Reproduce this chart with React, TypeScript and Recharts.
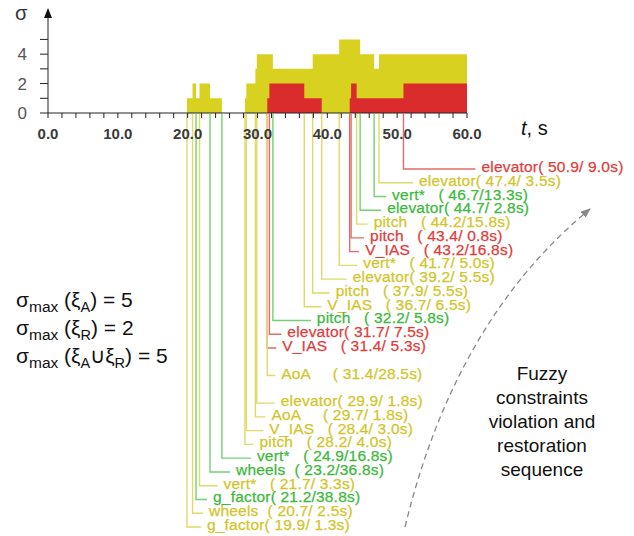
import { Area, ComposedChart, Line, ReferenceDot, XAxis, YAxis } from 'recharts'

const W = 634
const H = 536
const PLOT_LEFT = 48
const PX_PER_S = 419 / 60
const TOP_H = 150
const LEAD_TOP = 114
const ROW0 = 169
const ROW_H = 13.77
const FONT = 'Arial, "Liberation Sans", Helvetica, sans-serif'

// number of violated constraints (step curve)
const stepTime = [0, 19.9, 20.7, 21.2, 21.7, 23.2, 24.9, 28.2, 28.4, 29.7, 29.9, 31.4, 31.7, 32.2, 36.7, 37.9, 39.2, 41.7, 43.2, 43.4, 44.2, 44.7, 46.7, 47.4, 50.9, 60]
const stepTotal = [0, 1, 2, 1, 2, 1, 0, 1, 2, 3, 4, 4, 4, 3, 3, 4, 4, 5, 5, 5, 5, 4, 3, 4, 4, 4]
const stepRed = [0, 0, 0, 0, 0, 0, 0, 0, 0, 0, 0, 1, 2, 2, 1, 1, 0, 0, 1, 2, 1, 1, 1, 1, 2, 2]

const xTicks = [0, 2, 4, 6, 8, 10, 12, 14, 16, 18, 20, 22, 24, 26, 28, 30, 32, 34, 36, 38, 40, 42, 44, 46, 48, 50, 52, 54, 56, 58, 60]
const yTicks = [0, 1, 2, 3, 4, 5]

// constraint events, top label first
const eventName = ['elevator', 'elevator', 'vert*', 'elevator', 'pitch', 'pitch', 'V_IAS', 'vert*', 'elevator', 'pitch', 'V_IAS', 'pitch', 'elevator', 'V_IAS', 'AoA', 'elevator', 'AoA', 'V_IAS', 'pitch', 'vert*', 'wheels', 'vert*', 'g_factor', 'wheels', 'g_factor']
const eventStart = [50.9, 47.4, 46.7, 44.7, 44.2, 43.4, 43.2, 41.7, 39.2, 37.9, 36.7, 32.2, 31.7, 31.4, 31.4, 29.9, 29.7, 28.4, 28.2, 24.9, 23.2, 21.7, 21.2, 20.7, 19.9]
const eventDur = [9.0, 3.5, 13.3, 2.8, 15.8, 0.8, 16.8, 5.0, 5.5, 5.5, 6.5, 5.8, 7.5, 5.3, 28.5, 1.8, 1.8, 3.0, 4.0, 16.8, 36.8, 3.3, 38.8, 2.5, 1.3]
// A = alert (yellow), R = restoring (red), G = satisfied again (green)
const eventKind = ['R', 'A', 'G', 'G', 'A', 'R', 'R', 'A', 'A', 'A', 'A', 'G', 'R', 'R', 'A', 'A', 'A', 'A', 'A', 'G', 'G', 'A', 'G', 'A', 'A']

// label layout: row index and pixel offset of the text from its leader
const eventRow = [0, 1, 2, 3, 4, 5, 6, 7, 8, 9, 10, 11, 12, 13, 15, 17, 18, 19, 20, 21, 22, 23, 24, 25, 26]
const eventDx = [78, 40, 18, 27, 17, 19, 15.5, 24, 31, 23, 23, 44, 18, 15, 14, 24, 16, 23, 14.5, 35, 26, 24, 17, 16.5, 20]

const TEXT_COLOR: Record<string, string> = { A: '#D2C529', R: '#E23B3B', G: '#3BB93B' }
const LINE_COLOR: Record<string, string> = { A: '#E0DA66', R: '#E56A6A', G: '#72D272' }

const stepData = stepTime.map((t, i) => ({ t, total: stepTotal[i], red: stepRed[i] }))

const rowTopVal = (ROW0 - LEAD_TOP) / ROW_H
const rowBottomVal = -(H - ROW0) / ROW_H

const labelText = (i: number) =>
  `${eventName[i].padEnd(8)}( ${eventStart[i].toFixed(1)}/${eventDur[i].toFixed(1).padStart(4)}s)`

const leaders = eventName.map((_, i) => ({
  kind: eventKind[i],
  points: [
    { t: eventStart[i], y: rowTopVal },
    { t: eventStart[i], y: -eventRow[i] },
    { t: eventStart[i] + (eventDx[i] - 6) / PX_PER_S, y: -eventRow[i] },
  ],
}))

const labelDot = (i: number) => (props: any) => {
  const { cx, cy, index } = props
  if (index !== 2) return <g key={`d${i}-${index}`} />
  const c = TEXT_COLOR[eventKind[i]]
  return (
    <text
      key={`d${i}-${index}`}
      x={cx + 6}
      y={cy + 3}
      fontFamily={FONT}
      fontSize={15.5}
      letterSpacing={0.2}
      fill={c}
      stroke={c}
      strokeWidth={0.25}
      style={{ whiteSpace: 'pre' }}
    >
      {labelText(i)}
    </text>
  )
}

const Arrow = (props: any) => {
  const { cx, cy } = props
  return <path d={`M${cx},${cy - 2} L${cx + 4},${cy + 8} L${cx - 4},${cy + 8} Z`} fill="#111" />
}

const App = () => {
  return (
    <div style={{ position: 'absolute', left: 0, top: 0, width: W, height: H, background: '#fff' }}>
      <div style={{ position: 'absolute', left: 0, top: 0 }}>
        <ComposedChart
          width={W}
          height={H}
          margin={{ top: LEAD_TOP, right: W - PLOT_LEFT - 80 * PX_PER_S, bottom: 0, left: PLOT_LEFT }}
        >
          <XAxis type="number" dataKey="t" domain={[0, 80]} hide />
          <YAxis type="number" domain={[rowBottomVal, rowTopVal]} hide />
          {leaders.map((ld, i) => (
            <Line
              key={i}
              data={ld.points}
              dataKey="y"
              type="linear"
              stroke={LINE_COLOR[ld.kind]}
              strokeWidth={1.4}
              dot={labelDot(i)}
              activeDot={false}
              isAnimationActive={false}
            />
          ))}
        </ComposedChart>
      </div>
      <div style={{ position: 'absolute', left: 0, top: 0 }}>
        <ComposedChart
          width={W}
          height={TOP_H}
          data={stepData}
          margin={{ top: 10, right: W - PLOT_LEFT - 60 * PX_PER_S, bottom: 0, left: 0 }}
        >
          <XAxis
            type="number"
            dataKey="t"
            domain={[0, 60]}
            ticks={xTicks}
            interval={0}
            height={37}
            tickSize={5}
            tickMargin={10}
            axisLine={{ stroke: '#222' }}
            tickLine={{ stroke: '#222' }}
            tickFormatter={(v: number) => (v % 10 === 0 ? v.toFixed(1) : '')}
            tick={{ fontFamily: FONT, fontSize: 15, fontWeight: 'bold', fill: '#3a3a3a' }}
          />
          <YAxis
            type="number"
            domain={[0, 7]}
            ticks={yTicks}
            interval={0}
            width={PLOT_LEFT}
            tickSize={8}
            tickMargin={13}
            axisLine={{ stroke: '#222' }}
            tickLine={{ stroke: '#222' }}
            tickFormatter={(v: number) => (v % 2 === 0 ? String(v) : '')}
            tick={{ fontFamily: FONT, fontSize: 17, fill: '#555' }}
          />
          <Area
            type="stepAfter"
            dataKey="total"
            fill="#D9D11F"
            fillOpacity={1}
            stroke="none"
            dot={false}
            activeDot={false}
            isAnimationActive={false}
          />
          <Area
            type="stepAfter"
            dataKey="red"
            fill="#DA2C2C"
            fillOpacity={1}
            stroke="none"
            dot={false}
            activeDot={false}
            isAnimationActive={false}
          />
          <ReferenceDot x={0} y={7} r={4} shape={Arrow} ifOverflow="visible" />
        </ComposedChart>
      </div>
      <svg
        width={W}
        height={H}
        style={{ position: 'absolute', left: 0, top: 0, pointerEvents: 'none' }}
        fontFamily={FONT}
      >
        <defs>
          <marker id="head" markerWidth="10" markerHeight="8" refX="9" refY="4" orient="auto" markerUnits="userSpaceOnUse">
            <path d="M0,0 L10,4 L0,8 Z" fill="#888" />
          </marker>
        </defs>
        <text x={15} y={20} fontSize={20} fill="#333">σ</text>
        <text x={521} y={135} fontSize={20} fill="#111">
          <tspan fontStyle="italic">t</tspan>, s
        </text>
        <g fill="#111" fontSize={21}>
          <text x={16} y={307}>σ<tspan fontSize={15.5} dy={5}>max</tspan><tspan dy={-5}> (ξ</tspan><tspan fontSize={14.5} dy={5}>A</tspan><tspan dy={-5}>) = 5</tspan></text>
          <text x={16} y={335}>σ<tspan fontSize={15.5} dy={5}>max</tspan><tspan dy={-5}> (ξ</tspan><tspan fontSize={14.5} dy={5}>R</tspan><tspan dy={-5}>) = 2</tspan></text>
          <text x={16} y={363}>σ<tspan fontSize={15.5} dy={5}>max</tspan><tspan dy={-5}> (ξ</tspan><tspan fontSize={14.5} dy={5}>A</tspan><tspan dy={-5}>∪ξ</tspan><tspan fontSize={14.5} dy={5}>R</tspan><tspan dy={-5}>) = 5</tspan></text>
        </g>
        <g fill="#111" fontSize={19} textAnchor="middle">
          <text x={542} y={380}>Fuzzy</text>
          <text x={542} y={404}>constraints</text>
          <text x={542} y={428}>violation and</text>
          <text x={542} y={452}>restoration</text>
          <text x={542} y={476}>sequence</text>
        </g>
        <path
          d="M405,527 Q455,320 590,209"
          fill="none"
          stroke="#888"
          strokeWidth={1.3}
          strokeDasharray="6 4"
          markerEnd="url(#head)"
        />
      </svg>
    </div>
  )
}

export default App
